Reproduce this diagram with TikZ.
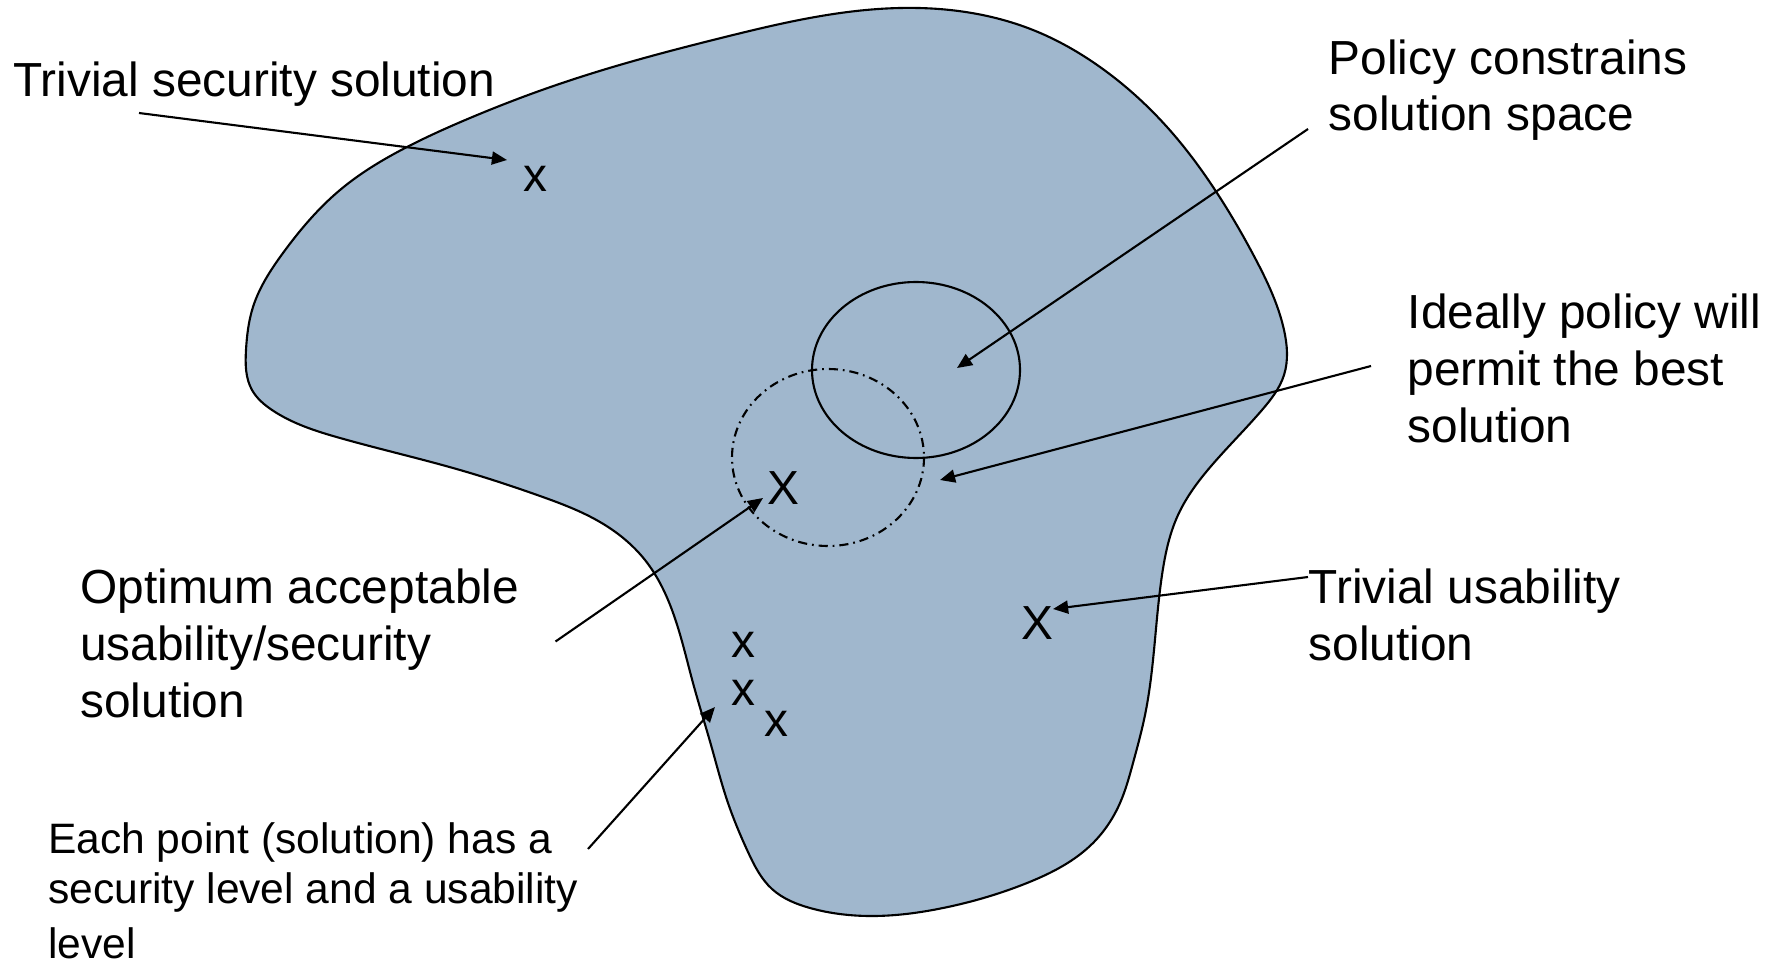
\documentclass[tikz,border=0pt]{standalone}
\usepackage{fontspec}
\setmainfont{Liberation Sans}
\usetikzlibrary{arrows.meta,hobby}
\definecolor{spacefill}{RGB}{160,183,205}
\tikzset{
  outline/.style={draw=black, line width=0.6pt},
  % multi-line labels are placed by the baseline of their last line
  label/.style={anchor=base west, inner sep=0pt, align=left,
    font=\fontsize{13.6pt}{16.2pt}\selectfont},
  smalllabel/.style={anchor=base west, inner sep=0pt, align=left,
    font=\fontsize{12.1pt}{14.37pt}\selectfont},
  solmark/.style={inner sep=0pt, font=\fontsize{13.6pt}{16.2pt}\selectfont},
  pointer/.style={draw=black, line width=0.6pt, -{Triangle[length=4.3pt, width=3.7pt]}},
  dashdot/.style={dash pattern=on 2.6pt off 1.4pt on 0.5pt off 1.4pt}
}
\begin{document}
\begin{tikzpicture}[x=0.01cm, y=-0.01cm]
\useasboundingbox (0,0) rectangle (1783,964);

% solution space
\path[outline, fill=spacefill, use Hobby shortcut, closed=true]
  (246,350) .. (253,307) .. (283,253) .. (340,190) .. (407,147)
  .. (470,118) .. (542,90) .. (630,62) .. (721,38) .. (900,8) .. (1033,30) .. (1100,67)
  .. (1167,127) .. (1217,193) .. (1255,258) .. (1284,330) .. (1284,375)
  .. (1262,410) .. (1212,465) .. (1178,515) .. (1162,575) .. (1154,650)
  .. (1145,715) .. (1133,763) .. (1120,803) .. (1093,843) .. (1027,883) .. (943,908)
  .. (873,916) .. (810,908) .. (772,889) .. (748,852) .. (728,803) .. (711,745)
  .. (693,683) .. (672,610) .. (645,560) .. (600,522) .. (540,496) .. (460,470)
  .. (340,438) .. (272,410) .. (252,390);

% policy region and ideal region
\draw[outline] (916,370) ellipse [x radius=104, y radius=88];
\draw[outline, dashdot] (828,457.5) ellipse [x radius=96, y radius=88.5];

% solutions
\node[solmark] (xsec) at (535.8,179) {x};
\node[solmark] (xopt) at (783,488) {X};
\node[solmark] (xusa) at (1037,623) {X};
\node[solmark] (xp1) at (743,645) {x};
\node[solmark] (xp2) at (743,693) {x};
\node[solmark] (xp3) at (776,724) {x};

% labels
\node[label] (lsec) at (12.5,96.7) {Trivial security solution};
\node[label] (lpol) at (1328,131) {Policy constrains\\solution space};
\node[label] (lide) at (1407,442) {Ideally policy will\\permit the best\\solution};
\node[label] (lopt) at (79.6,717) {Optimum acceptable\\usability/security\\solution};
\node[label] (lusa) at (1308,660) {Trivial usability\\solution};
\node[smalllabel] (leach) at (47.5,958) {Each point (solution) has a\\security level and a usability\\[1.1pt]level};

% pointer ends
\coordinate (secs) at (139,113);  \coordinate (sece) at (507,160);
\coordinate (pols) at (1308,129); \coordinate (pole) at (957,368);
\coordinate (ides) at (1371,366); \coordinate (idee) at (940,480);
\coordinate (opts) at (555.5,641.5); \coordinate (opte) at (763,498);
\coordinate (usas) at (1308,577); \coordinate (usae) at (1053,609);
\coordinate (eachs) at (588,849); \coordinate (eache) at (715,707);

\draw[pointer] (secs) -- (sece);
\draw[pointer] (pols) -- (pole);
\draw[pointer] (ides) -- (idee);
\draw[pointer] (opts) -- (opte);
\draw[pointer] (usas) -- (usae);
\draw[pointer] (eachs) -- (eache);
\end{tikzpicture}
\end{document}
